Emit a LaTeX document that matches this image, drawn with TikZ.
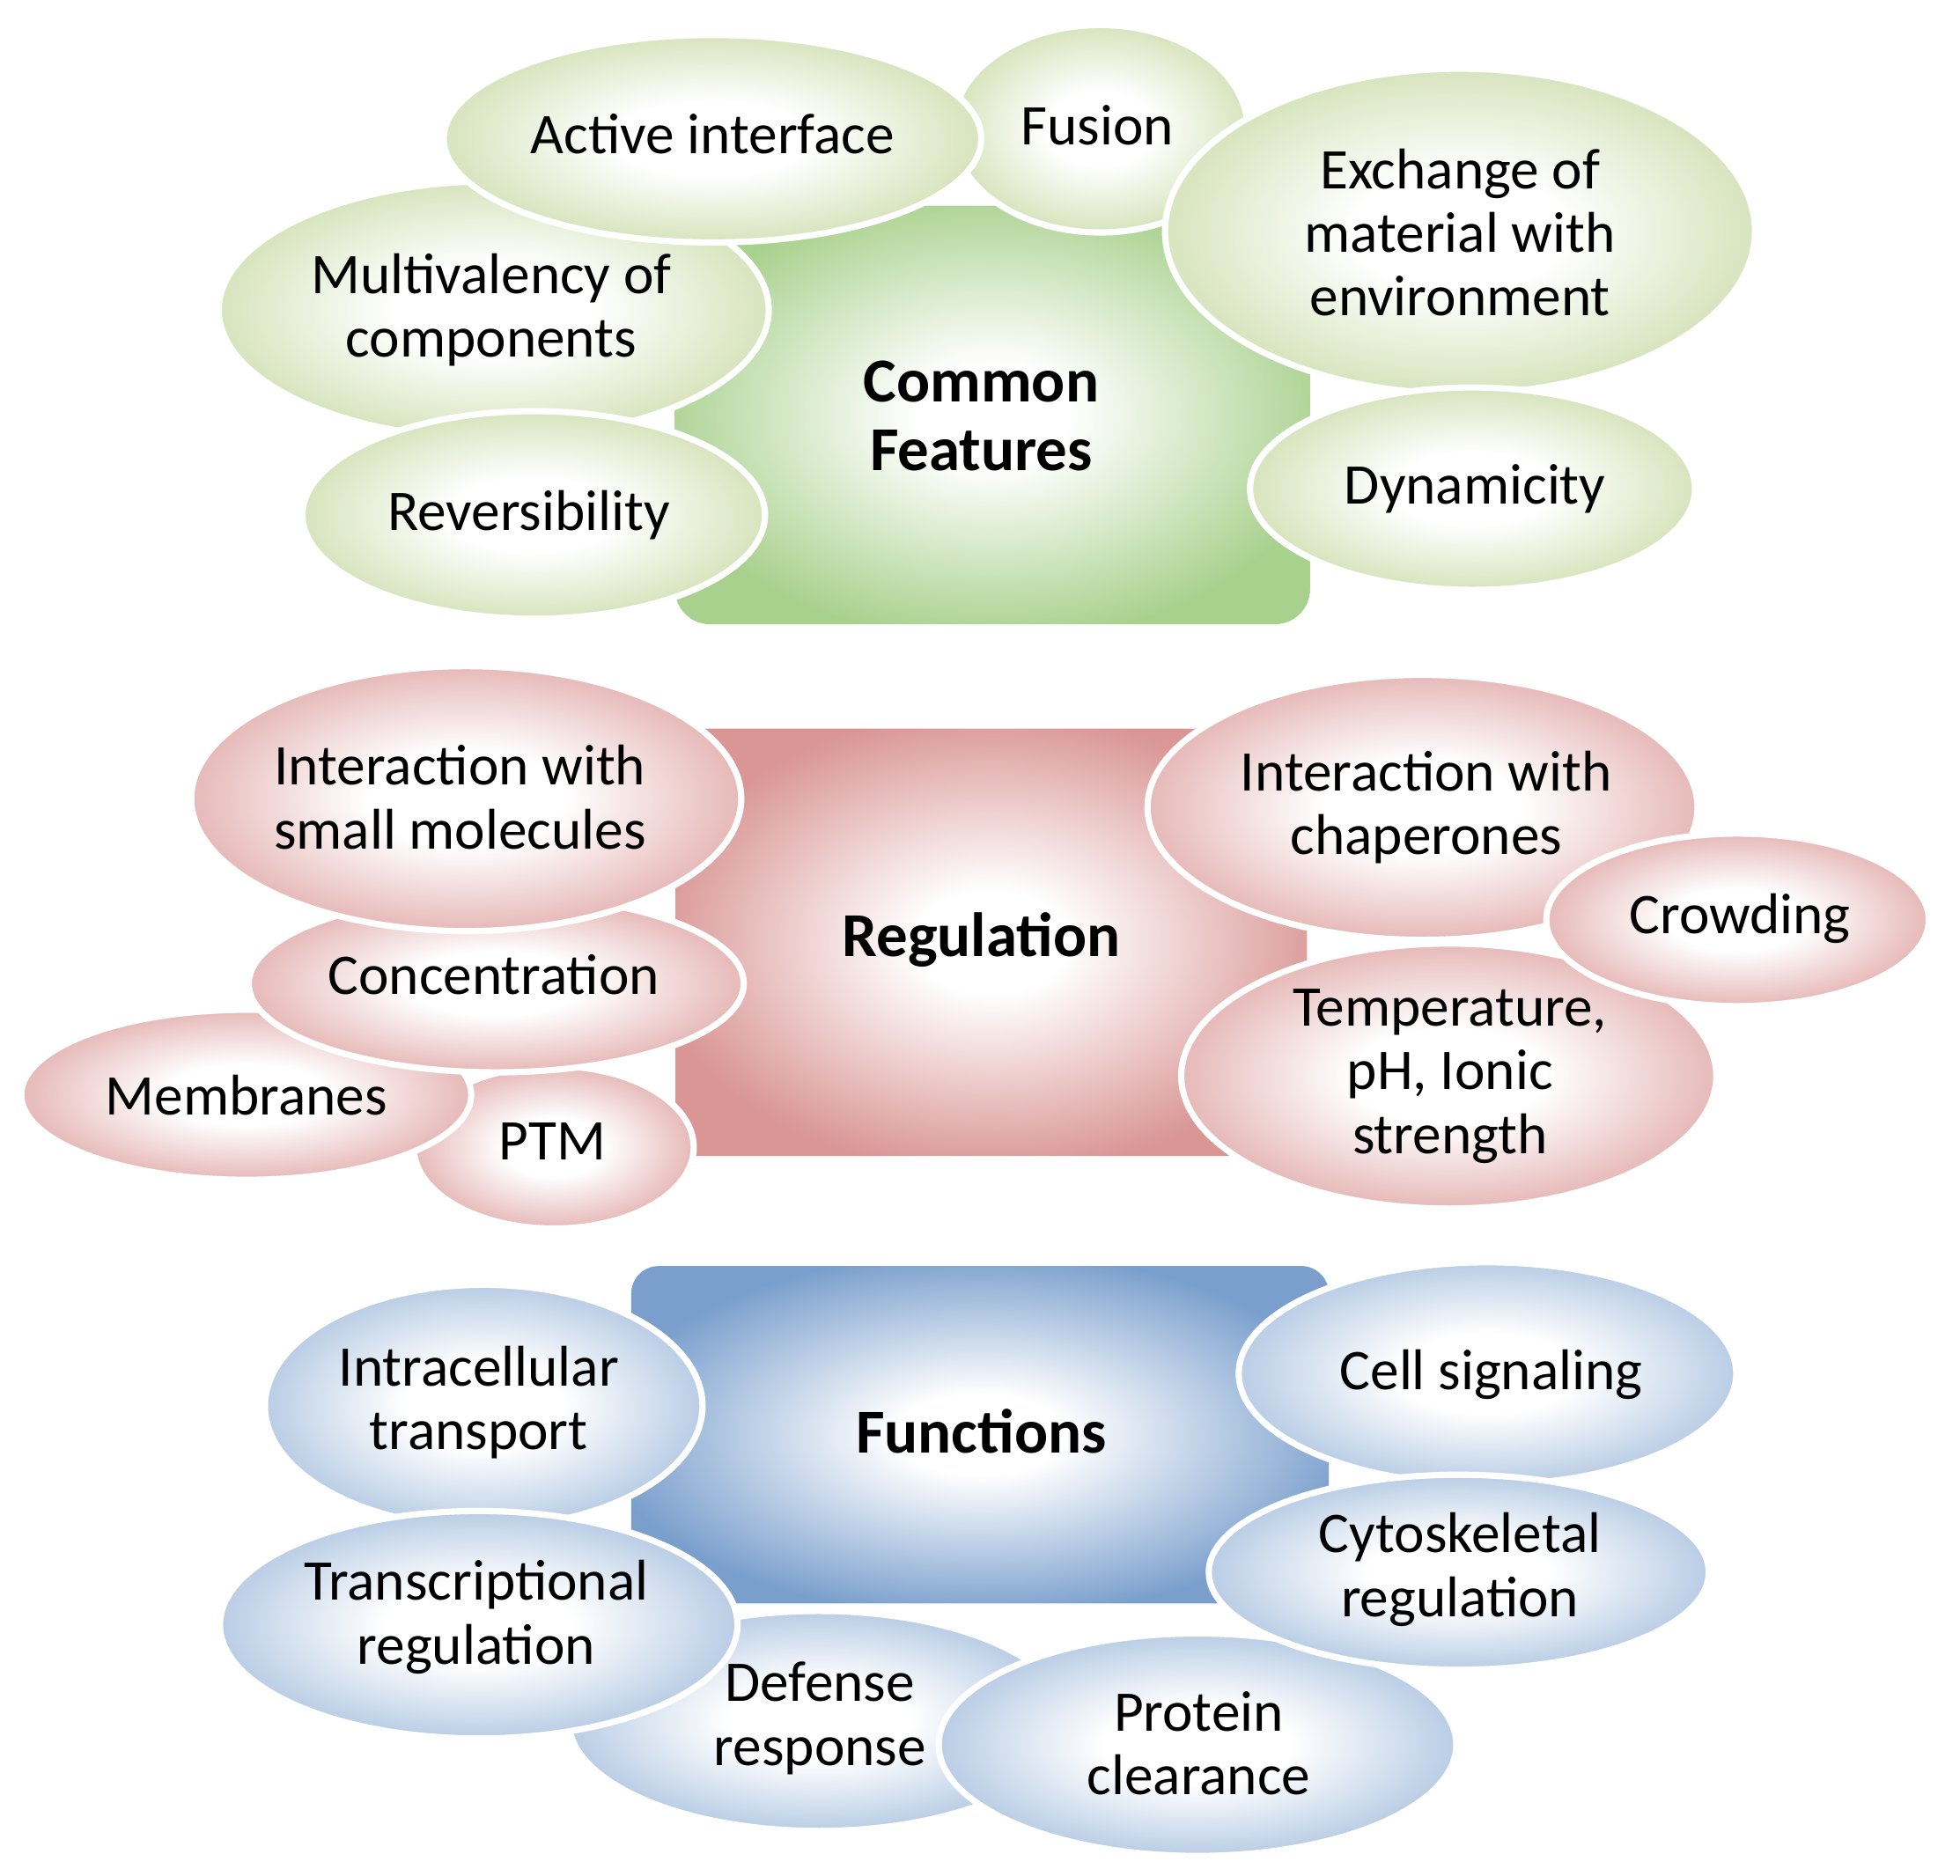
\documentclass[tikz,border=0pt]{standalone}
\usepackage{fontspec}
\setmainfont{Carlito}
\usetikzlibrary{shapes.geometric}
\definecolor{gEc}{HTML}{D7E4BD}
\definecolor{gRc}{HTML}{A9D18E}
\definecolor{rEc}{HTML}{E6B9B8}
\definecolor{rRc}{HTML}{D99694}
\definecolor{bEc}{HTML}{B9CDE5}
\definecolor{bRc}{HTML}{7A9FCD}
\pgfdeclareradialshading{gEsh}{\pgfpoint{0bp}{0bp}}{color(0bp)=(white); color(9bp)=(white); color(25bp)=(gEc); color(50bp)=(gEc)}
\pgfdeclareradialshading{rEsh}{\pgfpoint{0bp}{0bp}}{color(0bp)=(white); color(9bp)=(white); color(25bp)=(rEc); color(50bp)=(rEc)}
\pgfdeclareradialshading{bEsh}{\pgfpoint{0bp}{0bp}}{color(0bp)=(white); color(9bp)=(white); color(25bp)=(bEc); color(50bp)=(bEc)}
\pgfdeclareradialshading{gRsh}{\pgfpoint{0bp}{0bp}}{color(0bp)=(white); color(6bp)=(white); color(27bp)=(gRc); color(50bp)=(gRc)}
\pgfdeclareradialshading{rRsh}{\pgfpoint{0bp}{0bp}}{color(0bp)=(white); color(6bp)=(white); color(27bp)=(rRc); color(50bp)=(rRc)}
\pgfdeclareradialshading{bRsh}{\pgfpoint{0bp}{0bp}}{color(0bp)=(white); color(6bp)=(white); color(27bp)=(bRc); color(50bp)=(bRc)}
\tikzset{
  bub/.style={ellipse, draw=white, line width=5pt, inner sep=0pt, outer sep=0pt, align=center, font=\fontsize{46}{51}\selectfont},
  bubtext/.style={inner sep=0pt, align=center, font=\fontsize{46}{51}\selectfont},
  core/.style={rectangle, inner sep=0pt, outer sep=0pt},
  coretext/.style={inner sep=0pt, align=center, font=\bfseries\fontsize{50}{55}\selectfont},
  gE/.style={bub, shading=gEsh},
  rE/.style={bub, shading=rEsh},
  bE/.style={bub, shading=bEsh}
}
\begin{document}
\begin{tikzpicture}[x=1pt,y=-1pt]
\useasboundingbox (0,0) rectangle (1568,1501);
% ---------------- Common features (green)
\node[core, shading=gRsh, rounded corners=28pt, minimum width=508pt, minimum height=335pt] (cf) at (794,332) {};
\node[gE, minimum width=440pt, minimum height=206pt] (mv) at (395,248) {};
\node[bubtext] (mvt) at (393,248) {Multivalency of\\components};
\node[gE, minimum width=370pt, minimum height=166pt] (rev) at (427,412) {};
\node[bubtext] (revt) at (423,412) {Reversibility};
\node[gE, minimum width=236pt, minimum height=166pt] (fus) at (880,103) {};
\node[bubtext] (fust) at (878,100) {Fusion};
\node[gE, minimum width=430pt, minimum height=166pt] (act) at (570,111) {};
\node[bubtext] (actt) at (570,107) {Active interface};
\node[gE, minimum width=472pt, minimum height=260pt] (exc) at (1168,185) {};
\node[bubtext] (exct) at (1168,186) {Exchange of\\material with\\environment};
\node[gE, minimum width=356pt, minimum height=162pt] (dyn) at (1178,391) {};
\node[bubtext] (dynt) at (1180,391) {Dynamicity};
\node[coretext] (cft) at (785,333) {Common\\Features};
% ---------------- Regulation (red)
\node[core, shading=rRsh, rounded corners=6pt, minimum width=505pt, minimum height=342pt] (rg) at (793,754) {};
\node[rE, minimum width=224pt, minimum height=130pt] (ptm) at (443,918) {};
\node[bubtext] (ptmt) at (442,913) {PTM};
\node[rE, minimum width=360pt, minimum height=136pt] (mem) at (197,876) {};
\node[bubtext] (memt) at (197,876) {Membranes};
\node[rE, minimum width=396pt, minimum height=142pt] (con) at (397,787) {};
\node[bubtext] (cont) at (395,780) {Concentration};
\node[rE, minimum width=440pt, minimum height=212pt] (ism) at (373,639) {};
\node[bubtext] (ismt) at (368,638) {Interaction with\\small molecules};
\node[rE, minimum width=440pt, minimum height=212pt] (chap) at (1138,646) {};
\node[bubtext] (chapt) at (1141,646) {Interaction with\\chaperones};
\node[rE, minimum width=428pt, minimum height=212pt] (temp) at (1159,861) {};
\node[bubtext] (tempt) at (1160,861) {Temperature,\\pH, Ionic\\strength};
\node[rE, minimum width=306pt, minimum height=138pt] (crowd) at (1390,736) {};
\node[bubtext] (crowdt) at (1392,735) {Crowding};
\node[coretext] (rgt) at (785,752) {Regulation};
% ---------------- Functions (blue)
\node[core, shading=bRsh, rounded corners=22pt, minimum width=558pt, minimum height=270pt] (fn) at (784,1148) {};
\node[bE, minimum width=350pt, minimum height=194pt] (intra) at (387,1125) {};
\node[bubtext] (intrat) at (383,1122) {Intracellular\\transport};
\node[bE, minimum width=400pt, minimum height=176pt] (def) at (655,1377) {};
\node[bubtext] (deft) at (656,1375) {Defense\\response};
\node[bE, minimum width=414pt, minimum height=182pt] (trans) at (383,1300) {};
\node[bubtext] (transt) at (381,1294) {Transcriptional\\regulation};
\node[bE, minimum width=414pt, minimum height=178pt] (prot) at (958,1396) {};
\node[bubtext] (prott) at (959,1395) {Protein\\clearance};
\node[bE, minimum width=398pt, minimum height=178pt] (cell) at (1190,1099) {};
\node[bubtext] (cellt) at (1193,1100) {Cell signaling};
\node[bE, minimum width=400pt, minimum height=156pt] (cyto) at (1167,1258) {};
\node[bubtext] (cytot) at (1168,1256) {Cytoskeletal\\regulation};
\node[coretext] (fnt) at (785,1145) {Functions};
\end{tikzpicture}
\end{document}
